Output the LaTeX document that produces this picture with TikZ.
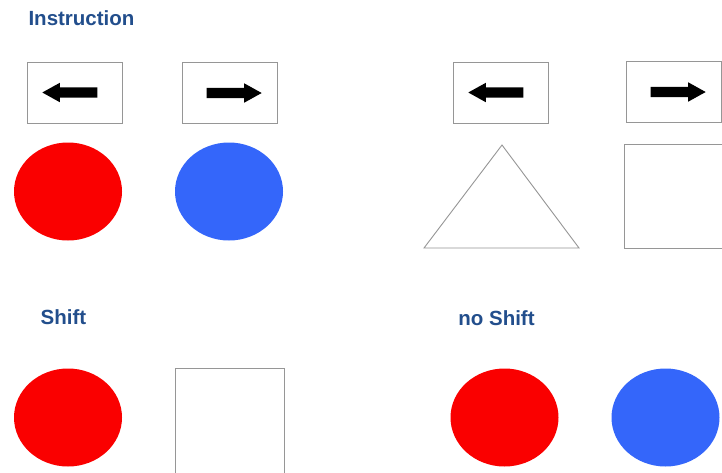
\documentclass[tikz,border=0pt]{standalone}
\usepackage{fontspec}
\setmainfont{Liberation Sans}
\usetikzlibrary{positioning,shapes.geometric,shapes.arrows}
\definecolor{cueBlue}{RGB}{34,78,140}
\definecolor{dotRed}{RGB}{250,0,0}
\definecolor{dotBlue}{RGB}{52,102,250}
\definecolor{frameGray}{RGB}{150,150,150}

\begin{document}
\begin{tikzpicture}[
    x=1pt, y=-1pt,
    heading/.style={font=\fontsize{20.5}{24}\selectfont\bfseries, text=cueBlue, inner sep=0pt},
    cuebox/.style={rectangle, draw=frameGray, line width=0.9pt, minimum width=95pt, minimum height=61pt},
    dot/.style={ellipse, minimum width=108pt, minimum height=98pt, inner sep=0pt},
    blank/.style={rectangle, draw=frameGray, line width=0.9pt, inner sep=0pt},
    pointer/.style={single arrow, fill=black, minimum height=55pt, inner sep=5pt,
        single arrow head extend=4.5pt, single arrow tip angle=58}
]
  \clip (0,0) rectangle (722,472);
  \fill[white] (0,0) rectangle (722,472);

  % instruction screen
  \node[heading] (instr) at (81.5,18) {Instruction};
  \node[cuebox] (boxL) at (74.5,92.5) {};
  \node[cuebox] (boxR) at (229.5,93) {};
  \node[pointer, shape border rotate=180] (arrL) at (boxL) {};
  \node[pointer] (arrR) at (boxR) {};
  \node[dot, fill=dotRed] (redA) at (68,191.5) {};
  \node[dot, fill=dotBlue] (blueA) at (229,191.5) {};

  \node[cuebox] (boxL2) at (500.5,92.5) {};
  \node[cuebox] (boxR2) at (673.5,92) {};
  \node[pointer, shape border rotate=180] (arrL2) at (boxL2) {};
  \node[pointer] (arrR2) at (boxR2) {};
  \coordinate (apex) at (502,145);
  \coordinate (baseL) at (424,248);
  \coordinate (baseR) at (579,248);
  \draw[frameGray, line width=0.9pt] (baseL) -- (apex) -- (baseR) -- cycle;
  \node[blank, minimum width=100pt, minimum height=104pt] (sqA) at (674,196) {};

  % shift trial
  \node[heading] (shift) at (63.5,317) {Shift};
  \node[dot, fill=dotRed] (redB) at (68,417.5) {};
  \node[blank, minimum width=109pt, minimum height=108pt] (sqB) at (229.5,422) {};

  % no shift trial
  \node[heading] (noshift) at (496.5,318) {no Shift};
  \node[dot, fill=dotRed] (redC) at (504.5,417.5) {};
  \node[dot, fill=dotBlue] (blueC) at (665.5,417.5) {};
\end{tikzpicture}
\end{document}
